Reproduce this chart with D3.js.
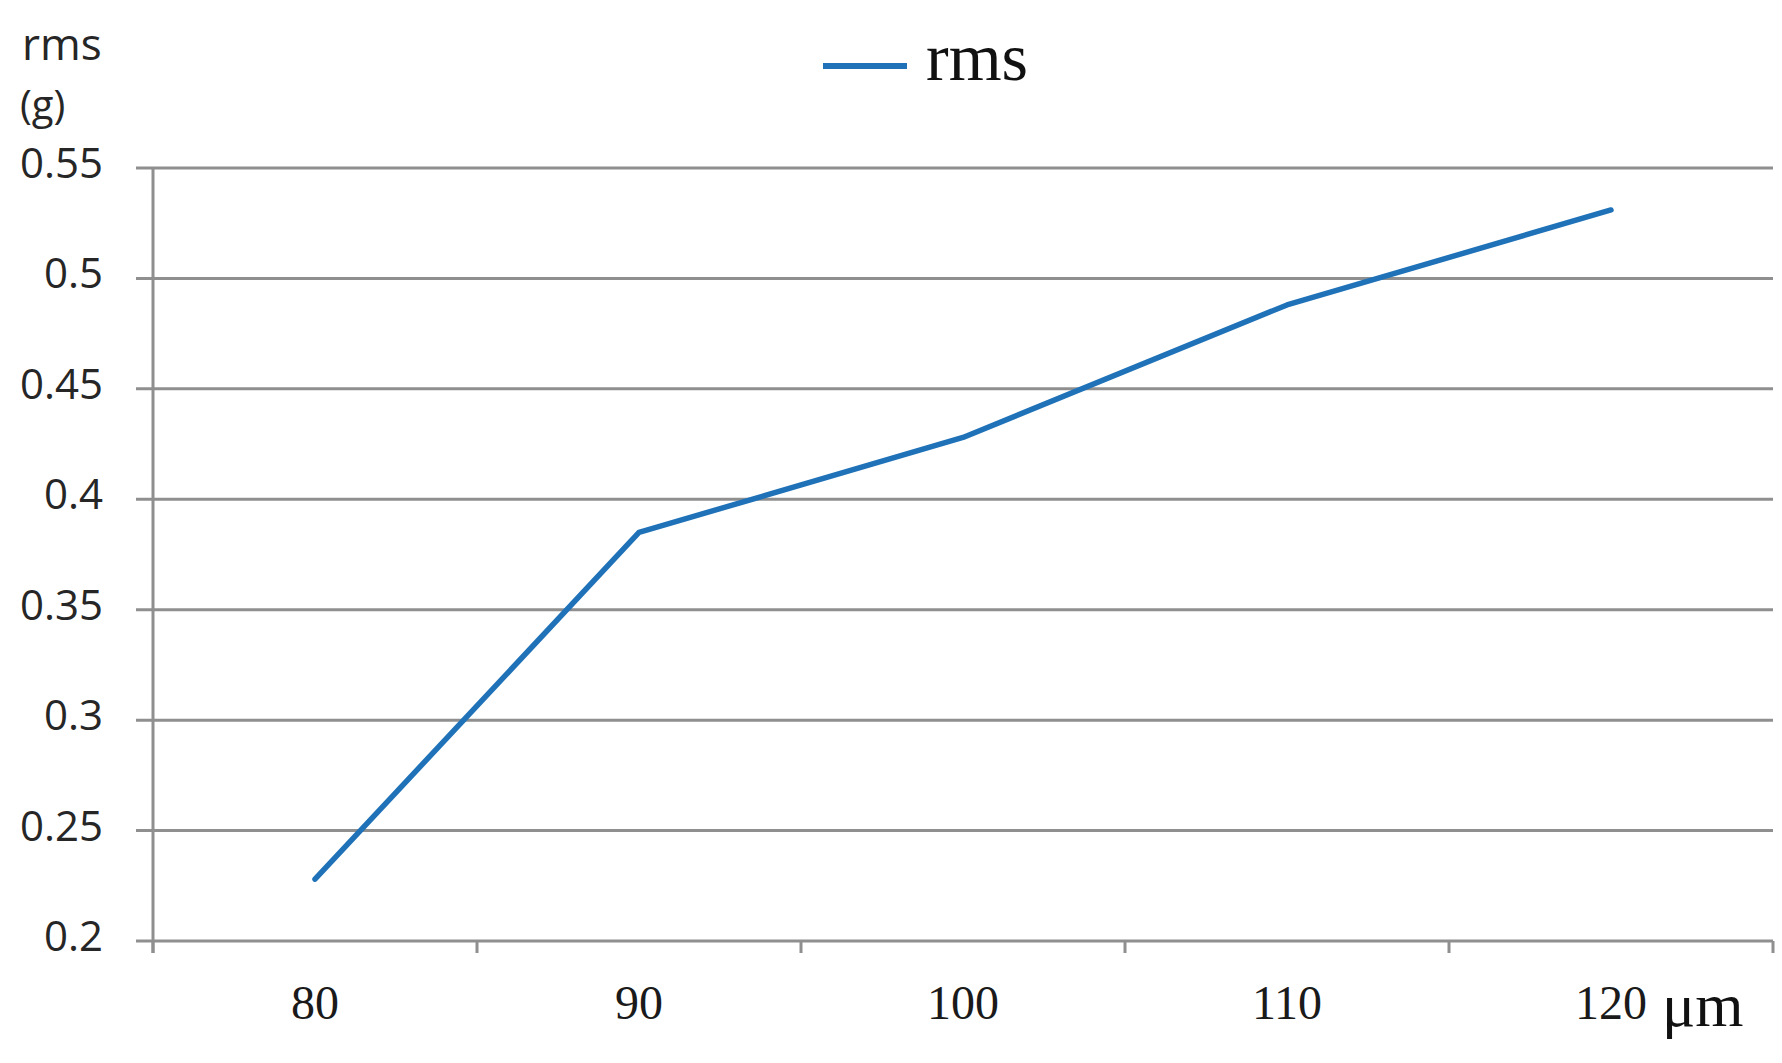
<!DOCTYPE html>
<html>
<head>
<meta charset="utf-8">
<script src="https://cdn.jsdelivr.net/npm/d3@7"></script>
<style>
  body { margin: 0; background: #fff; }
  svg { display: block; }
</style>
</head>
<body>
<div id="chart"></div>
<script>
// data
var categories = ["80", "90", "100", "110", "120"];
var rmsValues = [0.228, 0.385, 0.428, 0.488, 0.531];
var yTickValues = [0.2, 0.25, 0.3, 0.35, 0.4, 0.45, 0.5, 0.55];
var yTickLabels = ["0.2", "0.25", "0.3", "0.35", "0.4", "0.45", "0.5", "0.55"];
var seriesName = "rms";

(function(){
  var W = 1782, H = 1063;
  var pLeft = 153, pRight = 1773, pTop = 168, pBottom = 941;

  var svg = d3.select("#chart").append("svg")
    .attr("width", W).attr("height", H);

  var x = d3.scaleBand().domain(categories).range([pLeft, pRight]);
  var y = d3.scaleLinear().domain([0.2, 0.55]).range([pBottom, pTop]);

  var gridColor = "#8f8f8f";
  var lineColor = "#1f72b8";

  // horizontal gridlines, sticking out a bit to the left
  svg.append("g").selectAll("line")
    .data(yTickValues)
    .enter().append("line")
    .attr("x1", pLeft - 17).attr("x2", pRight)
    .attr("y1", function(d){ return y(d); })
    .attr("y2", function(d){ return y(d); })
    .attr("stroke", gridColor).attr("stroke-width", 3);

  // vertical axis line
  svg.append("line")
    .attr("x1", pLeft).attr("x2", pLeft)
    .attr("y1", pTop).attr("y2", pBottom + 12)
    .attr("stroke", gridColor).attr("stroke-width", 3);

  // x ticks at band edges
  var edges = categories.map(function(c){ return x(c); }).concat([pRight]);
  svg.append("g").selectAll("line")
    .data(edges)
    .enter().append("line")
    .attr("x1", function(d){ return d; }).attr("x2", function(d){ return d; })
    .attr("y1", pBottom).attr("y2", pBottom + 12)
    .attr("stroke", gridColor).attr("stroke-width", 3);

  // y tick labels
  var yAxis = d3.axisLeft(y)
    .tickValues(yTickValues)
    .tickFormat(function(d, i){ return yTickLabels[i]; })
    .tickSize(0).tickPadding(0);
  var gy = svg.append("g")
    .attr("transform", "translate(" + (pLeft - 50) + ",-4)")
    .call(yAxis);
  gy.select(".domain").remove();
  gy.selectAll("text")
    .attr("font-family", "'Open Sans', sans-serif")
    .attr("font-size", 42)
    .attr("fill", "#262626");

  // x tick labels
  var xAxis = d3.axisBottom(x).tickSize(0).tickPadding(0);
  var gx = svg.append("g")
    .attr("transform", "translate(0," + (pBottom + 44) + ")")
    .call(xAxis);
  gx.select(".domain").remove();
  gx.selectAll("text")
    .attr("font-family", "'Liberation Serif', 'Times New Roman', serif")
    .attr("font-size", 48)
    .attr("fill", "#1a1a1a");

  // the series
  var line = d3.line()
    .x(function(d, i){ return x(categories[i]) + x.bandwidth() / 2; })
    .y(function(d){ return y(d); });

  svg.append("path")
    .datum(rmsValues)
    .attr("d", line)
    .attr("fill", "none")
    .attr("stroke", lineColor)
    .attr("stroke-width", 5.5)
    .attr("stroke-linecap", "round")
    .attr("stroke-linejoin", "round");

  // legend
  svg.append("line")
    .attr("x1", 823).attr("x2", 907)
    .attr("y1", 66).attr("y2", 66)
    .attr("stroke", lineColor).attr("stroke-width", 6);
  svg.append("text")
    .attr("x", 926).attr("y", 80)
    .attr("font-family", "'Liberation Serif', 'Times New Roman', serif")
    .attr("font-size", 68)
    .attr("fill", "#111")
    .text(seriesName);

  // axis titles
  svg.append("text")
    .attr("x", 22).attr("y", 60)
    .attr("font-family", "'Open Sans', sans-serif")
    .attr("font-size", 44)
    .attr("fill", "#262626")
    .text("rms");
  svg.append("text")
    .attr("x", 20).attr("y", 119)
    .attr("font-family", "'Open Sans', sans-serif")
    .attr("font-size", 40)
    .attr("fill", "#262626")
    .text("(g)");
  svg.append("text")
    .attr("x", 1662).attr("y", 1026)
    .attr("font-family", "'Liberation Serif', 'Times New Roman', serif")
    .attr("font-size", 62)
    .attr("fill", "#111")
    .text("μm");
})();
</script>
</body>
</html>
